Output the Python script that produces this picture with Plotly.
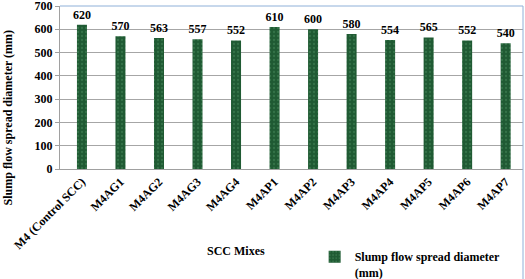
import plotly.graph_objects as go

categories = ["M4 (Control SCC)", "M4AG1", "M4AG2", "M4AG3", "M4AG4", "M4AP1",
              "M4AP2", "M4AP3", "M4AP4", "M4AP5", "M4AP6", "M4AP7"]
values = [620, 570, 563, 557, 552, 610, 600, 580, 554, 565, 552, 540]
series_name = "<b>Slump flow spread diameter<br>(mm)</b>"
y_ticks = [0, 100, 200, 300, 400, 500, 600, 700]

font_family = "Liberation Serif, Times New Roman, serif"

fig = go.Figure()
fig.add_trace(go.Bar(
    x=list(range(len(categories))),
    y=values,
    name=series_name,
    width=0.26,
    marker=dict(color="#1f5a33", line=dict(width=0),
                pattern=dict(shape=".", fgcolor="#4a8a5e", size=4, solidity=0.25)),
    text=["<b>%d</b>" % v for v in values],
    textposition="outside",
    constraintext="none",
    textfont=dict(family=font_family, size=12, color="black"),
    cliponaxis=False,
    showlegend=True,
))

fig.update_layout(
    width=525, height=279,
    margin=dict(l=60, r=2, t=6, b=110, autoexpand=False),
    paper_bgcolor="white", plot_bgcolor="white",
    font=dict(family=font_family, size=11, color="black"),
    xaxis=dict(
        tickmode="array",
        tickvals=list(range(len(categories))),
        ticktext=["<b>%s</b>" % c for c in categories],
        tickangle=-45,
        range=[-0.57, 11.45],
        showline=True, linecolor="#a0a0a0", linewidth=1,
        showgrid=False, ticks="", automargin=False,
        ticklabeloverflow="allow",
        tickfont=dict(family=font_family, size=12, color="black"),
    ),
    yaxis=dict(
        range=[0, 700],
        tickvals=y_ticks,
        ticktext=["<b>%d</b>" % t for t in y_ticks],
        showgrid=True, gridcolor="#a6a6a6", gridwidth=1,
        showline=True, linecolor="#a0a0a0", linewidth=1,
        ticks="outside", ticklen=4, tickcolor="#a0a0a0", automargin=False,
        ticklabeloverflow="allow",
        tickfont=dict(family=font_family, size=12, color="black"),
        zeroline=False,
    ),
    legend=dict(
        x=0.55, y=-0.45, xanchor="left", yanchor="top",
        valign="top", itemwidth=30, tracegroupgap=0,
        font=dict(family=font_family, size=12, color="black"),
        bgcolor="rgba(0,0,0,0)",
    ),
    annotations=[
        dict(text="<b>SCC Mixes</b>", xref="paper", yref="paper",
             x=0.38, y=-0.50, xanchor="center", yanchor="middle", showarrow=False,
             font=dict(family=font_family, size=12, color="black")),
        dict(text="<b>Slump flow spread diameter (mm)</b>", xref="paper", yref="paper",
             x=-0.112, y=0.317, xanchor="center", yanchor="middle",
             textangle=-90, showarrow=False,
             font=dict(family=font_family, size=12, color="black")),
    ],
    shapes=[
        dict(type="line", xref="paper", yref="paper", x0=0, x1=1, y0=1, y1=1,
             line=dict(color="#8fb0d8", width=1)),
        dict(type="line", xref="paper", yref="paper", x0=1, x1=1, y0=1, y1=-1,
             line=dict(color="#8fb0d8", width=1)),
    ],
)

fig.write_html("out.html", config={"displayModeBar": False},
               post_script="document.body.style.margin='0';document.body.style.overflow='hidden';")
